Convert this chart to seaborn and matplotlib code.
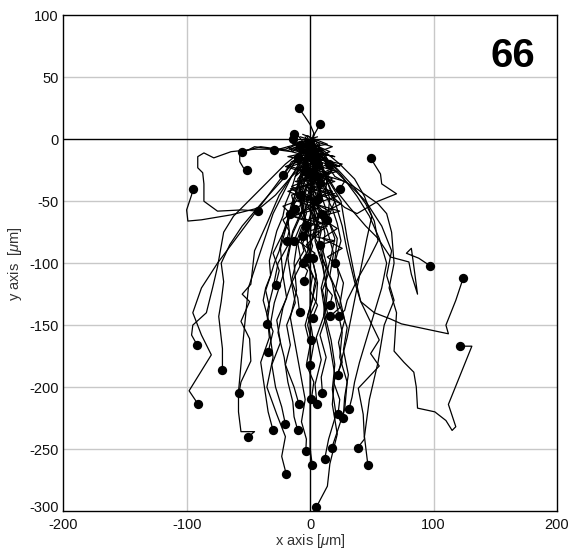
import numpy as np
import pandas as pd
import matplotlib
matplotlib.use("Agg")
import matplotlib.pyplot as plt
import seaborn as sns
from matplotlib.transforms import ScaledTranslation

# Trajetorias das celulas (x, y em um), agrupadas pela posicao final

# tracks que terminam acima de y = -100
upper_x = [
    [2, 4, 1, 3, 0, -4, -9],
    [0, -3, 5, 2, 4, 8],
    [0, 4, -2, -5, -9, -13],
    [0, 6, 3, 10, 20, 28, 38, 55, 70, 58, 57, 52, 49],
    [0, -4, -10, -18, -25, -40, -55],
    [2, -3, -8, -14, -18, -29],
    [-2, -8, -15, -30, -45, -57, -57, -54, -51],
    [0, -6, -15, -28, -40, -64, -88, -99, -100, -96, -95],
    [0, -20, -45, -64, -78, -86, -91, -91, -87, -86, -86, -75, -55, -42],
    [0, 6, -5, 3, -8, -4, -15, -12],
    [3, -2, -6, -10, -15, -22],
    [0, 5, 1, -4, 2, -3, -10, -4, -6, -14, -22, -17, -19],
    [2, -4, 5, 9, -2, 4, -8, -13],
    [-3, -10, 2, -4, 6, -8, -2, -6],
    [1, 8, 6, -3, 0, 10, 4, -2],
    [-1, -6, 4, 2, 12, 8, -3, 2],
    [3, 0, 6, -5, -8],
    [0, 8, 14, 2, 5],
    [-4, 2, 10, 4, 12, 6],
    [5, 12, 18, 10, 20, 14],
    [-2, -8, -3, -12, -5, -2],
    [-3, 4, 10, 3, 8],
    [2, -4, -10, -14],
]
upper_y = [
    [-2, -8, -3, 5, 12, 18, 25],
    [-5, -12, -6, 0, 5, 12],
    [-8, -15, -10, -3, 2, 4],
    [-5, -12, -20, -25, -48, -55, -60, -50, -44, -36, -28, -20, -15],
    [0, -10, -6, -9, -8, -6, -10],
    [0, -7, -4, -10, -6, -9],
    [-3, -12, -10, -8, -6, -12, -18, -23, -25],
    [-10, -22, -30, -45, -55, -61, -65, -66, -57, -45, -40],
    [0, -8, -8, -10, -15, -11, -14, -23, -27, -36, -50, -58, -57, -58],
    [-5, -15, -20, -28, -35, -42, -45, -56],
    [-2, -8, -10, -16, -18, -29],
    [-3, -8, -14, -20, -25, -30, -36, -45, -52, -58, -65, -74, -82],
    [-5, -18, -30, -42, -55, -62, -70, -82],
    [0, -20, -28, -40, -48, -60, -70, -78],
    [-2, -12, -20, -32, -45, -58, -70, -96],
    [-4, -28, -36, -50, -62, -75, -85, -96],
    [5, -15, -22, -10, -5],
    [0, -8, -18, -15, -20],
    [2, -10, -20, -30, -40, -48],
    [-3, -12, -25, -35, -50, -65],
    [-1, -10, -22, -30, -18, -27],
    [3, -10, -20, -28, -35],
    [-10, -4, -6, 0],
]

# tracks que ficam no aglomerado central
cluster_x = [
    [-2, 8, -6, 12, -3, 15, 2, 18, 5],
    [3, -10, 6, -14, 10, -8, 4, -16, 2, -8],
    [-4, 10, -8, 14, -2, 20, 0, 22, 4, 16, 10],
    [5, -12, 8, -16, 12, -6, 20, -10, 6, -14, 10, -3],
    [-6, 14, -10, 20, 0, 24, 15],
    [0, 16, -6, 22, -12, 18, -4, 24, 2, 14, -8, 20, 8],
    [6, -14, 10, -18, 4, -10],
    [-2, 12, -4, 18, 2, 25, 6, 22, 10, 26, 14, 20],
    [4, -18, 2, -20, 6, -15, 0, -22, -16],
    [-8, 18, -4, 26, 8, 28, 24],
    [2, -16, 10, -12, 14, -18, 8, -14, 12, -10, 4, -6],
]
cluster_y = [
    [3, -4, -10, -15, -22, -28, -35, -25, -30],
    [-2, -6, -12, -18, -24, -30, -36, -40, -48, -45],
    [0, -8, -14, -20, -28, -34, -40, -46, -52, -58, -60],
    [-1, -8, -14, -22, -30, -38, -44, -50, -56, -62, -68, -70],
    [4, -4, -8, -14, -10, -22, -20],
    [-3, -10, -18, -26, -34, -42, -50, -58, -64, -70, -76, -82, -85],
    [2, -4, -8, -14, -18, -15],
    [-2, -12, -22, -32, -42, -52, -62, -72, -80, -88, -95, -100],
    [0, -6, -14, -22, -30, -38, -46, -54, -60],
    [2, -6, -14, -20, -28, -34, -40],
    [-1, -8, -16, -24, -32, -42, -52, -62, -72, -82, -92, -100],
]

# tracks que terminam entre -100 e -200
middle_x = [
    [2, 8, 20, 32, 45, 55, 65, 80, 82, 87, 85, 82, 78, 88, 97],
    [0, 10, 20, 26, 30, 36, 41, 52, 65, 74, 112, 110, 118, 124],
    [0, -4, -2, -10, -8, -15, -18, -24, -30, -25, -28],
    [3, 8, 4, 10, 6, 2, 5, -2, -6, -3, -8, -2, -5],
    [-2, 4, 2, 8, 12, 15, 20, 17, 14, 12, 18, 16],
    [0, -4, -2, -8, -12, -6, -4, -8, -5, -12, -15, -10, -8.5],
    [1, 4, 6, 0, -3, 2, 5, -1, -4, 2, 0, 6, 2],
    [3, 7, 10, 14, 12, 18, 22, 25, 21, 23, 20, 24, 16],
    [-1, 10, 22, 35, 45, 52, 55, 48, 40, 34, 30, 28, 23],
    [-2, -5, -8, -12, -15, -20, -22, -27, -30, -33, -32, -36, -33, -35],
    [0, 3, 5, 8, 4, 0, -4, -1, 3, 6, 5, 0, -2, 1],
    [-3, -10, -20, -35, -50, -62, -70, -75, -79, -84, -95, -96, -91.5],
    [0, 10, 20, 35, 45, 55, 62, 66, 68, 64, 70, 68, 76, 84, 86, 87, 101, 110, 115, 118, 112, 131, 121],
    [2, -2, -5, -8, -10, -15, -18, -22, -25, -29, -32, -36, -38, -34, -30, -34],
    [-1, 2, 4, 0, -5, -3, -2, 2, 5, 3, 2, -2, 1, 3, 0],
    [0, -10, -20, -38, -55, -65, -72, -70, -72, -74, -71, -71],
    [1, 12, 24, 36, 44, 50, 46, 42, 38, 34, 30, 26, 22.6],
]
middle_y = [
    [-5, -20, -40, -55, -70, -80, -95, -99, -109, -125, -110, -88, -92, -96, -102],
    [-5, -25, -50, -70, -90, -115, -131, -140, -145, -149, -157, -150, -130, -112],
    [-2, -12, -22, -32, -44, -56, -68, -80, -92, -106, -118],
    [-5, -14, -24, -34, -44, -54, -64, -74, -84, -92, -100, -106, -114],
    [-6, -18, -30, -42, -54, -66, -80, -94, -106, -118, -126, -134],
    [0, -12, -22, -32, -42, -54, -66, -78, -90, -102, -114, -128, -139.5],
    [-3, -14, -26, -38, -50, -62, -74, -86, -98, -110, -122, -134, -144],
    [-2, -12, -22, -32, -44, -56, -68, -82, -96, -110, -124, -136, -143],
    [-5, -14, -24, -38, -52, -66, -82, -96, -110, -122, -130, -138, -143],
    [-2, -10, -20, -30, -40, -52, -62, -74, -86, -98, -110, -122, -135, -149],
    [-4, -14, -26, -38, -50, -62, -74, -88, -102, -116, -130, -142, -150, -162],
    [-4, -12, -20, -35, -50, -62, -75, -103, -120, -140, -150, -158, -166],
    [-3, -15, -30, -38, -45, -52, -60, -75, -100, -120, -140, -171, -180, -188, -200, -217, -220, -227, -235, -232, -214, -167, -167],
    [-1, -10, -20, -30, -40, -52, -64, -76, -90, -100, -110, -120, -130, -145, -155, -172],
    [-3, -15, -30, -45, -60, -72, -85, -98, -110, -120, -130, -142, -152, -165, -182],
    [-5, -15, -30, -50, -70, -85, -100, -115, -131, -143, -169, -186],
    [-2, -10, -20, -32, -46, -62, -80, -100, -120, -140, -160, -176, -190],
]

# tracks que terminam abaixo de -200
lower_x = [
    [-2, -12, -25, -35, -45, -48, -55, -49, -56, -49, -48, -56, -57.6],
    [2, -3, 4, -1, 7, 3, 11, 15, 10, 14, 8, 13, 9, 10],
    [0, -5, -2, -8, -3, 2, -2, 5, 1, -4, 0, -3, 3, 1],
    [-1, 4, 0, 5, 2, 9, 6, 13, 9, 12, 5, 9, 4, 5.6],
    [-3, -15, -30, -45, -60, -75, -88, -95, -88, -80, -98, -90.6],
    [0, -4, 0, -6, -3, -10, -7, -15, -12, -19, -16, -20, -13, -9],
    [2, 14, 26, 38, 48, 56, 62, 58, 52, 46, 40, 36, 34, 31.5],
    [0, 3, 8, 6, 14, 19, 16, 24, 28, 23, 26, 19, 24, 22.6],
    [-2, 5, 10, 16, 14, 22, 20, 27, 24, 30, 27, 31, 28, 26.8],
    [0, -4, -9, -6, -14, -18, -22, -19, -27, -24, -31, -28, -23, -20],
    [1, -5, -3, -12, -18, -16, -26, -30, -35, -33, -40, -37, -34, -30],
    [-1, -4, -8, -6, -14, -18, -15, -22, -26, -21, -18, -14, -13, -10],
    [0, -15, -30, -40, -50, -54, -58, -58, -56, -45, -50],
    [0, 3, 1, 8, 12, 10, 18, 22, 26, 24, 30, 28, 22, 17.6],
    [0, 10, 25, 30, 36, 41, 56, 49, 56, 39, 43, 44, 38.5],
    [1, -2, -6, -3, -10, -13, -11, -16, -12, -8, -4, -7, -3, -3.5],
    [-1, 2, 0, 6, 4, 10, 14, 12, 17, 20, 18, 21, 15, 11.8],
    [0, 1, 0, 0, 0, 0, 0, 1.8],
    [0, 15, 30, 45, 58, 66, 62, 68, 60, 55, 48, 44, 46.8],
    [-2, -6, -12, -18, -24, -22, -29, -33, -30, -35, -27, -20, -23, -19.4],
    [1, 3, 1, 6, 9, 13, 11, 16, 20, 18, 22, 16, 14, 5],
]
lower_y = [
    [-5, -25, -45, -68, -90, -117, -125, -131, -147, -161, -179, -196, -205],
    [-2, -18, -32, -48, -62, -78, -92, -108, -122, -140, -158, -176, -192, -205],
    [-6, -20, -36, -52, -70, -86, -100, -116, -132, -150, -166, -182, -196, -210],
    [-3, -16, -30, -46, -60, -74, -88, -104, -120, -140, -160, -178, -198, -214],
    [-3, -20, -40, -60, -80, -100, -120, -140, -158, -174, -203, -214],
    [-1, -16, -32, -50, -68, -84, -100, -116, -132, -150, -166, -182, -200, -214],
    [-4, -16, -30, -46, -62, -80, -100, -120, -140, -160, -180, -196, -208, -218],
    [-2, -20, -38, -56, -74, -92, -110, -128, -146, -164, -180, -196, -210, -222],
    [-6, -18, -32, -48, -64, -80, -98, -116, -134, -152, -170, -190, -208, -225],
    [-3, -20, -38, -56, -74, -92, -110, -128, -146, -164, -182, -200, -216, -230],
    [-5, -18, -32, -48, -64, -82, -100, -120, -140, -160, -180, -200, -220, -235],
    [-2, -20, -40, -58, -76, -96, -116, -136, -156, -176, -196, -212, -224, -235],
    [-8, -30, -60, -90, -120, -160, -204, -220, -236, -236, -240],
    [-5, -22, -40, -58, -76, -96, -116, -136, -156, -176, -196, -218, -236, -249],
    [-3, -25, -50, -80, -110, -131, -162, -173, -183, -201, -222, -242, -249],
    [-2, -20, -40, -60, -80, -100, -122, -144, -166, -188, -210, -228, -242, -252],
    [-4, -22, -42, -62, -82, -102, -122, -142, -162, -182, -202, -222, -242, -258],
    [-2, -40, -100, -150, -200, -235, -250, -263],
    [-5, -20, -35, -50, -70, -90, -110, -130, -150, -180, -210, -240, -263],
    [-3, -22, -44, -66, -88, -110, -132, -154, -176, -200, -222, -240, -256, -270],
    [-4, -26, -48, -70, -92, -118, -142, -166, -190, -214, -238, -262, -280, -297],
]

panel_label = "66"

# Monta o DataFrame longo (um registro por ponto)
rows = []
track_id = 0
groups = [(upper_x, upper_y), (cluster_x, cluster_y), (middle_x, middle_y), (lower_x, lower_y)]
for xs_group, ys_group in groups:
    for xs, ys in zip(xs_group, ys_group):
        for step, (x, y) in enumerate(zip(xs, ys)):
            rows.append({"track": track_id, "step": step, "x": x, "y": y})
        track_id += 1
df = pd.DataFrame(rows)
ends = df.loc[df.groupby("track")["step"].idxmax()]

sns.set_style("white")
plt.rcParams["font.family"] = ["Liberation Sans", "DejaVu Sans"]
plt.rcParams["mathtext.fontset"] = "custom"
plt.rcParams["mathtext.it"] = "Liberation Sans:italic"
plt.rcParams["mathtext.rm"] = "Liberation Sans"
plt.rcParams["axes.unicode_minus"] = False

fig = plt.figure(figsize=(5.69, 5.50), dpi=100)
ax = fig.add_axes([0.111, 0.071, 0.868, 0.901])

# grade
for gx in [-100, 100]:
    ax.axvline(gx, color="#c8c8c8", lw=1.0, zorder=0)
for gy in [-250, -200, -150, -100, -50, 50]:
    ax.axhline(gy, color="#c8c8c8", lw=1.0, zorder=0)
ax.axvline(0, color="black", lw=1.0, zorder=1)
ax.axhline(0, color="black", lw=1.0, zorder=1)

sns.lineplot(data=df, x="x", y="y", units="track", estimator=None, sort=False,
             color="black", lw=0.9, ax=ax, zorder=2)
sns.scatterplot(data=ends, x="x", y="y", color="black", s=45, marker="o",
                linewidth=0, ax=ax, zorder=3)

ax.set_xlim(-200, 200)
ax.set_ylim(-300, 100)
ax.set_xticks([-200, -100, 0, 100, 200])
ax.set_yticks([-300, -250, -200, -150, -100, -50, 0, 50, 100])
ax.tick_params(length=0, labelsize=10.5, colors="#111111")
ax.tick_params(axis="x", pad=5)
ax.tick_params(axis="y", pad=3)
# sobe um pouco o rotulo -300 para nao encostar no -200
lab = ax.get_yticklabels()[0]
lab.set_transform(lab.get_transform() + ScaledTranslation(0, 3 / 72, fig.dpi_scale_trans))
for s in ax.spines.values():
    s.set_color("black")
    s.set_linewidth(1.0)

ax.set_xlabel(r"x axis [$\mu$m]", fontsize=10.5, color="#333333", labelpad=0)
ax.set_ylabel(r"y axis  [$\mu$m]", fontsize=10.5, color="#333333", labelpad=4)

ax.text(164, 67, panel_label, fontsize=29, fontweight="bold", color="black",
        ha="center", va="center")

fig.savefig("out.png", dpi=100)
